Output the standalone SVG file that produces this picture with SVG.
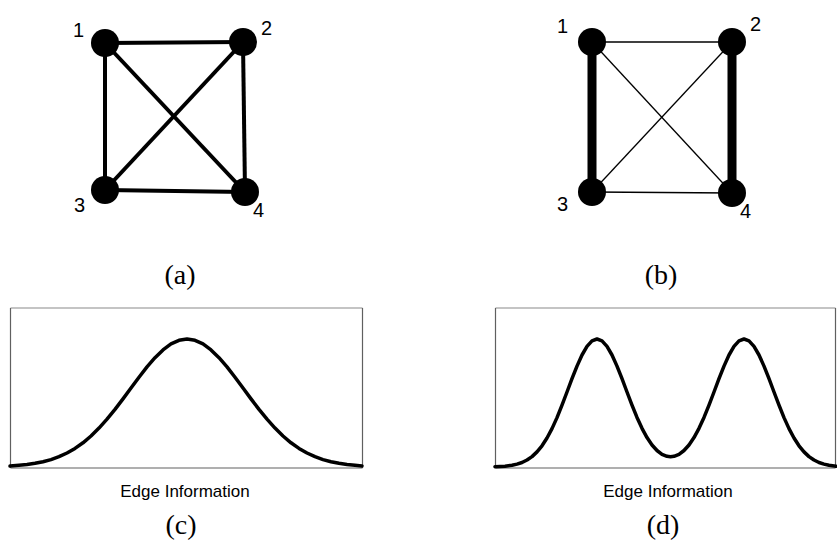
<svg xmlns="http://www.w3.org/2000/svg" width="837" height="551" viewBox="0 0 837 551">
<style>
.node{fill:#000}
.lbl{font-family:"Liberation Sans",Arial,sans-serif;font-size:20px;fill:#000}
.cap{font-family:"Liberation Serif","Times New Roman",serif;font-size:28px;fill:#000;text-anchor:middle}
.axis{font-family:"Liberation Sans",Arial,sans-serif;font-size:17px;fill:#000;text-anchor:middle}
.ea{stroke:#000;stroke-width:4;fill:none}
.thin{stroke:#000;stroke-width:1.3;fill:none}
.thick{stroke:#000;stroke-width:9;fill:none}
.curve{stroke:#000;stroke-width:3.5;fill:none;stroke-linejoin:round;stroke-linecap:round}
.btop{stroke:#b0b0b0;stroke-width:1.5}
.bside{stroke:#606060;stroke-width:1.2}
</style>
<rect width="837" height="551" fill="#fff"/>
<g id="connectors">
  <line class="ea" x1="105" y1="43" x2="243" y2="42"/>
  <line class="ea" x1="105" y1="43" x2="105" y2="190"/>
  <line class="ea" x1="105" y1="43" x2="245" y2="192"/>
  <line class="ea" x1="243" y1="42" x2="105" y2="190"/>
  <line class="ea" x1="243" y1="42" x2="245" y2="192"/>
  <line class="ea" x1="105" y1="190" x2="245" y2="192"/>
  <line class="thin" x1="592" y1="42" x2="732" y2="42"/>
  <line class="thick" x1="592" y1="42" x2="592" y2="192"/>
  <line class="thin" x1="592" y1="42" x2="732" y2="193"/>
  <line class="thin" x1="732" y1="42" x2="592" y2="192"/>
  <line class="thick" x1="732" y1="42" x2="732" y2="193"/>
  <line class="thin" x1="592" y1="192" x2="732" y2="193"/>
</g>
<g id="a1"><circle class="node" cx="105" cy="43" r="14"/><text class="lbl" x="73" y="37">1</text></g>
<g id="a2"><circle class="node" cx="243" cy="42" r="14"/><text class="lbl" x="261" y="35">2</text></g>
<g id="a3"><circle class="node" cx="105" cy="190" r="14"/><text class="lbl" x="74" y="212">3</text></g>
<g id="a4"><circle class="node" cx="245" cy="192" r="14"/><text class="lbl" x="253" y="217">4</text></g>
<g id="b1"><circle class="node" cx="592" cy="42" r="14"/><text class="lbl" x="557" y="33">1</text></g>
<g id="b2"><circle class="node" cx="732" cy="42" r="14"/><text class="lbl" x="750" y="31">2</text></g>
<g id="b3"><circle class="node" cx="592" cy="192" r="14"/><text class="lbl" x="557" y="211">3</text></g>
<g id="b4"><circle class="node" cx="732" cy="193" r="14"/><text class="lbl" x="740" y="218">4</text></g>
<text class="cap" x="180" y="284">(a)</text>
<text class="cap" x="661" y="284">(b)</text>
<g id="plot-c">
  <line class="btop" x1="10.5" y1="308" x2="362.5" y2="308"/>
  <line class="bside" x1="10.5" y1="308" x2="10.5" y2="468"/>
  <line class="bside" x1="362.5" y1="308" x2="362.5" y2="468"/>
  <line class="bside" x1="10.5" y1="468" x2="362.5" y2="468"/>
  <polyline class="curve" points="10,466 19,465.3 27,464.5 35,463.3 43,461.7 51,459.6 59,456.7 67,453 75,448.4 83,442.8 91,436 99,428.1 107,419.2 115,409.4 123,398.9 131,388 139,377.2 147,366.9 155,357.7 163,349.9 171,343.9 179,340.3 187,339 195,340.3 203,343.9 211,349.9 219,357.7 227,366.9 235,377.2 243,388 251,398.9 259,409.4 267,419.2 275,428.1 283,436 291,442.8 299,448.4 307,453 315,456.7 323,459.6 331,461.7 339,463.3 347,464.5 355,465.3 362,465.9"/>
  <text class="axis" x="185" y="497">Edge Information</text>
</g>
<g id="plot-d">
  <line class="btop" x1="495.5" y1="308" x2="835.5" y2="308"/>
  <line class="bside" x1="495.5" y1="308" x2="495.5" y2="468"/>
  <line class="bside" x1="835.5" y1="308" x2="835.5" y2="468"/>
  <line class="bside" x1="495.5" y1="468" x2="835.5" y2="468"/>
  <polyline class="curve" points="495,466.7 505,466.2 512,465.3 517,464.1 522,462.5 527,460 532,456.6 537,451.9 542,445.8 547,438 552,428.6 557,417.6 562,405.2 567,392 572,378.7 577,366.1 582,355 587,346.4 592,340.9 597,339 602,340.9 607,346.4 612,355 617,366.1 622,378.7 627,392 632,405.1 637,417.4 642,428.3 647,437.6 652,445 657,450.5 662,454.3 667,456.3 670.5,456.7 674,456.3 679,454.3 684,450.5 689,445 694,437.6 699,428.3 704,417.4 709,405.1 714,392 719,378.7 724,366.1 729,355 734,346.4 739,340.9 744,339 749,340.9 754,346.4 759,355 764,366.1 769,378.7 774,392 779,405.2 784,417.6 789,428.6 794,438 799,445.8 804,451.9 809,456.6 814,460 819,462.5 824,464.1 829,465.3 836,466.2"/>
  <text class="axis" x="668" y="497">Edge Information</text>
</g>
<text class="cap" x="181" y="534">(c)</text>
<text class="cap" x="663" y="534">(d)</text>
</svg>
